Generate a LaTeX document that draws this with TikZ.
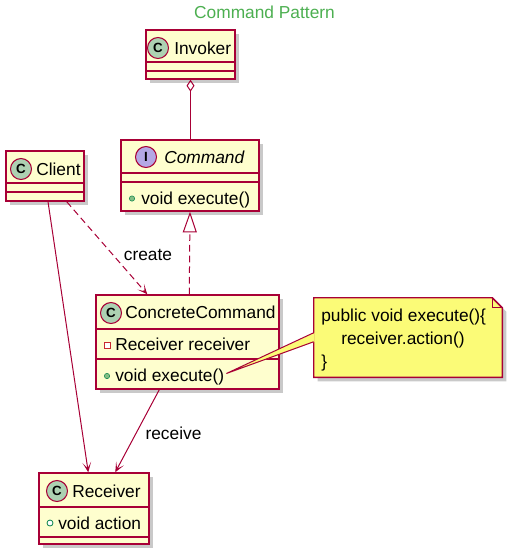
\documentclass[tikz,border=0pt]{standalone}
\usepackage{fontspec}
\setmainfont{Liberation Sans}
\usetikzlibrary{fit,calc,arrows.meta,shadows}
\definecolor{umlred}{HTML}{A80036}
\definecolor{umlfill}{HTML}{FEFECE}
\definecolor{iconC}{HTML}{ADD1B2}
\definecolor{iconI}{HTML}{B4A7E5}
\definecolor{notefill}{HTML}{FBFB77}
\definecolor{titlegreen}{HTML}{4CAF50}
\definecolor{pubgreen}{HTML}{84BE84}
\definecolor{pubborder}{HTML}{038048}
\definecolor{privred}{HTML}{C82930}
\begin{document}
\begin{tikzpicture}[x=0.75pt,y=-0.75pt,
  every node/.style={font=\fontsize{13}{15}\selectfont},
  cls/.style={draw=umlred, fill=umlfill, line width=1.1pt, inner sep=0pt,
    drop shadow={shadow xshift=3pt, shadow yshift=-3pt, opacity=0.3, fill=black!70}},
  sepline/.style={draw=umlred, line width=1.1pt},
  txt/.style={anchor=west, inner sep=0pt, text height=9.3pt, text depth=0pt},
  ctxt/.style={anchor=center, inner sep=0pt, text height=9.3pt, text depth=0pt},
  icon/.style={circle, draw=umlred, line width=0.8pt, minimum size=15.75pt, inner sep=0pt,
    font=\fontsize{10}{10}\selectfont\bfseries},
  pubm/.style={circle, fill=pubgreen, draw=pubborder, line width=0.4pt, minimum size=4pt, inner sep=0pt},
  pubf/.style={circle, fill=white, draw=pubborder, line width=0.6pt, minimum size=4.5pt, inner sep=0pt},
  privf/.style={rectangle, fill=white, draw=privred, line width=0.6pt, minimum size=4.5pt, inner sep=0pt},
  conn/.style={draw=umlred, line width=0.75pt},
  arr/.style={conn, -{Stealth[length=7.5pt,width=6.5pt,inset=4.5pt]}},
]
\useasboundingbox (0,0) rectangle (530,554);

% title
\node[ctxt, text=titlegreen] (title) at (264.5,12.5) {Command Pattern};

% Invoker
\node[cls, fit={(146,30) (235,79)}] (invoker) {};
\draw[sepline] (146,62) -- (235,62);
\draw[sepline] (146,71) -- (235,71);
\node[icon, fill=iconC] (invokerI) at (158,48) {C};
\node[txt] (invokerT) at (174,48) {Invoker};

% Command
\node[cls, fit={(121,140) (259,211)}] (command) {};
\draw[sepline] (121,173) -- (259,173);
\draw[sepline] (121,182) -- (259,182);
\node[icon, fill=iconI] (commandI) at (146,157) {I};
\node[txt, font=\fontsize{13}{15}\selectfont\itshape] (commandT) at (164,157) {Command};
\node[pubm] (commandD) at (132,198.5) {};
\node[txt] (commandM) at (141,198.5) {void execute()};

% Client
\node[cls, fit={(6,151) (84,201)}] (client) {};
\draw[sepline] (6,183) -- (84,183);
\draw[sepline] (6,192) -- (84,192);
\node[icon, fill=iconC] (clientI) at (21,169) {C};
\node[txt] (clientT) at (36,169) {Client};

% ConcreteCommand
\node[cls, fit={(96,295) (279,389)}] (cc) {};
\draw[sepline] (96,329) -- (279,329);
\draw[sepline] (96,359) -- (279,359);
\node[icon, fill=iconC] (ccI) at (111,313) {C};
\node[txt] (ccT) at (125,312.5) {ConcreteCommand};
\node[privf] (ccS) at (107,345) {};
\node[txt] (ccF) at (115,344.5) {Receiver receiver};
\node[pubm] (ccD) at (107,376) {};
\node[txt] (ccM) at (115,375.5) {void execute()};

% Receiver
\node[cls, fit={(39,473) (149,544)}] (receiver) {};
\draw[sepline] (39,507) -- (149,507);
\draw[sepline] (39,537) -- (149,537);
\node[icon, fill=iconC] (receiverI) at (57,491) {C};
\node[txt] (receiverT) at (72,491) {Receiver};
\node[pubf] (receiverD) at (50,523) {};
\node[txt] (receiverF) at (58,523) {void action};

% Note
\node[fit={(314,298) (502,377)}, inner sep=0pt] (note) {};
\fill[black!70, opacity=0.3] ($(note.north west)+(4,4)$) -- ($(note.north east)+(-6,4)$) -- ($(note.north east)+(4,14)$) -- ($(note.south east)+(4,4)$) -- ($(note.south west)+(4,4)$) -- cycle;
\draw[conn, line width=1.1pt, fill=notefill] (note.north west) -- ($(note.north east)+(-10,0)$) -- ($(note.north east)+(0,10)$) -- (note.south east) -- (note.south west) -- cycle;
\draw[conn, line width=1.1pt] ($(note.north east)+(-10,0)$) -- ($(note.north east)+(-10,10)$) -- ($(note.north east)+(0,10)$);
\fill[notefill] ($(note.north west)+(1,35)$) -- ($(ccM.east)+(2,-2)$) -- ($(note.north west)+(1,44)$) -- cycle;
\draw[conn] ($(note.north west)+(0,35)$) -- ($(ccM.east)+(2,-2)$) -- ($(note.north west)+(0,44)$);
\node[txt] (noteL1) at (321,315.5) {public void execute()\{};
\node[txt] (noteL2) at (341,338) {receiver.action()};
\node[txt] (noteL3) at (321,361) {\}};

% connectors
\draw[conn, -{Diamond[open,length=12pt*0.75,width=8pt*0.75]}]
  (invoker.south |- command.north) -- (invoker.south);
\draw[conn, dashed, dash pattern=on 5pt off 3pt, -{Triangle[open,length=15.5pt,width=10.5pt]}]
  ($(cc.north west)+(94,0)$) -- (command.south);
\draw[arr, dashed, dash pattern=on 5pt off 3pt]
  ($(client.south east)+(-18,0)$) -- ($(cc.north west)+(52,0)$);
\draw[arr] ($(client.south)+(3,0)$) -- ($(receiver.north west)+(50,0)$);
\draw[arr] ($(cc.south west)+(64,0)$) -- ($(receiver.north west)+(77,0)$);

% labels
\node[ctxt] (createL) at (148,254) {create};
\node[ctxt] (receiveL) at (173.5,433) {receive};
\end{tikzpicture}
\end{document}
